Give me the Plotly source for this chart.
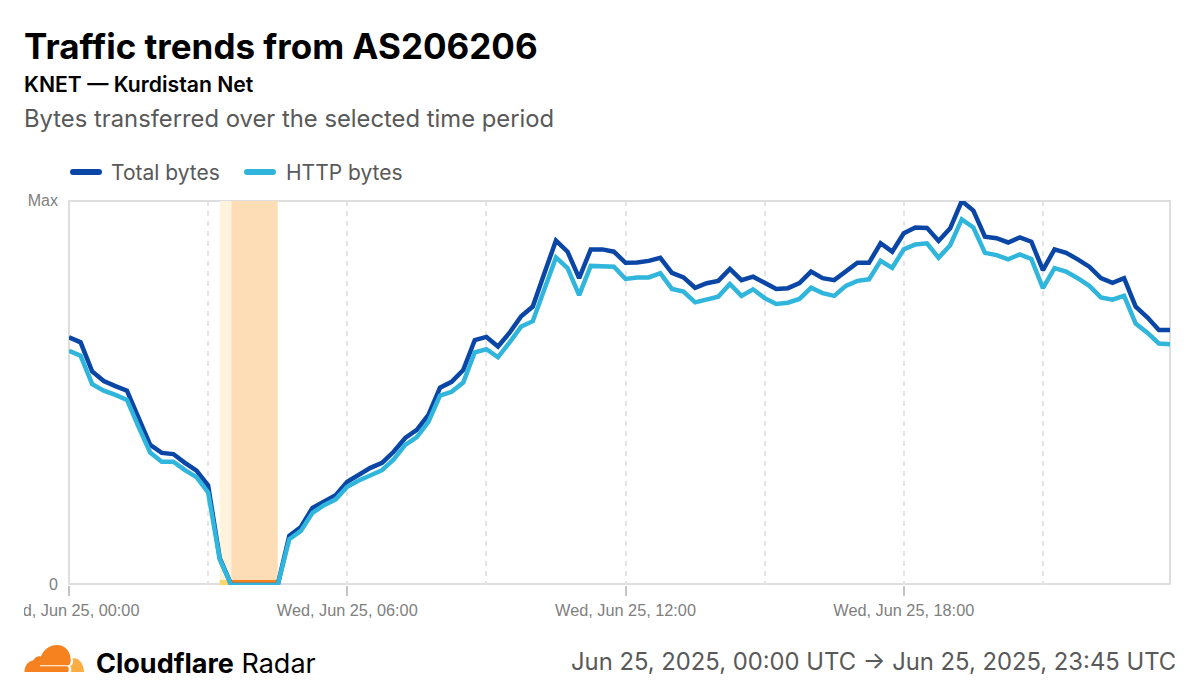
import pandas as pd
import plotly.graph_objects as go

# Traffic levels as a percentage of the day's maximum, one sample every 15 minutes.
total_bytes = [
    64.5, 63.2, 55.6, 53.1, 51.8, 50.6, 43.5, 36.5, 34.4, 34.1, 31.8, 29.8,
    25.9, 7.0, 0, 0, 0, 0, 0, 12.8, 15.1, 20.1, 21.9, 23.4,
    26.9, 28.6, 30.5, 31.8, 34.7, 38.3, 40.4, 44.3, 51.4, 52.9, 56.0, 63.8,
    64.6, 62.1, 65.7, 70.0, 72.5, 81.2, 89.7, 86.8, 79.9, 87.4, 87.4, 86.8,
    83.9, 84.0, 84.4, 85.2, 81.3, 80.1, 77.4, 78.6, 79.2, 82.3, 79.4, 80.3,
    78.6, 77.1, 77.3, 78.6, 81.6, 79.9, 79.4, 81.8, 83.9, 83.9, 89.0, 86.8,
    91.6, 93.1, 93.0, 89.6, 92.9, 100.0, 97.5, 90.7, 90.3, 89.2, 90.5, 89.4,
    82.0, 87.4, 86.5, 84.8, 82.9, 79.9, 78.7, 79.9, 72.5, 69.7, 66.4, 66.4,
]
http_bytes = [
    61.0, 59.7, 52.3, 50.6, 49.5, 48.2, 41.2, 34.5, 32.1, 32.1, 29.9, 28.1,
    24.1, 6.7, 0, 0, 0, 0, 0, 11.9, 14.1, 18.8, 20.8, 22.3,
    25.6, 27.2, 28.6, 29.9, 32.7, 36.5, 38.5, 42.5, 49.3, 50.3, 52.7, 60.6,
    61.4, 59.3, 63.2, 67.3, 68.7, 77.3, 85.3, 82.5, 75.5, 83.1, 83.1, 82.9,
    79.7, 80.1, 80.1, 81.2, 77.1, 76.4, 73.6, 74.4, 75.1, 78.4, 75.3, 77.0,
    74.7, 73.2, 73.5, 74.5, 77.4, 76.0, 75.3, 77.9, 79.2, 79.6, 84.4, 82.6,
    87.4, 88.7, 89.0, 85.2, 88.5, 95.2, 93.1, 86.5, 85.9, 84.8, 86.1, 84.9,
    77.3, 82.5, 81.6, 79.9, 77.9, 74.9, 74.3, 75.3, 68.1, 65.7, 62.9, 62.7,
]
timestamps = pd.date_range("2025-06-25 00:00", "2025-06-25 23:45", freq="15min")

y_tick_values = [0, 100]
y_tick_labels = ["0", "Max"]

# Outage windows: partial hour first, then the full outage.
partial_outage = ("2025-06-25 03:15", "2025-06-25 03:30")
full_outage = ("2025-06-25 03:30", "2025-06-25 04:30")

W, H = 1200, 699
GREY_TEXT = "#595959"
AXIS_TEXT = "#808080"
FRAME = "#dedede"
GRID = "#e4e4e4"
SANS = "Inter"


def px(x):
    return x / W


def py(y):
    return 1 - y / H


def label(text, x, y, size, color, weight=400, anchor="left", family=SANS):
    return dict(
        text=text, x=px(x), y=py(y), xref="paper", yref="paper",
        xanchor=anchor, yanchor="middle", showarrow=False,
        borderpad=0, borderwidth=0,
        font=dict(family=family, size=size, color=color, weight=weight),
    )


def pill(x0, x1, y, thick, color):
    # Rounded legend swatch, built from two half-circle curves.
    t, b, r = y - thick / 2, y + thick / 2, thick / 2
    path = (
        f"M {px(x0 + r)} {py(t)} L {px(x1 - r)} {py(t)} "
        f"Q {px(x1)} {py(t)} {px(x1)} {py(y)} Q {px(x1)} {py(b)} {px(x1 - r)} {py(b)} "
        f"L {px(x0 + r)} {py(b)} Q {px(x0)} {py(b)} {px(x0)} {py(y)} "
        f"Q {px(x0)} {py(t)} {px(x0 + r)} {py(t)} Z"
    )
    return dict(type="path", xref="paper", yref="paper", path=path,
                fillcolor=color, line_width=0, layer="above")


def outline(points, color):
    # Closed curve through logo outline points: ("M"/"L", x, y) or ("C", x1, y1, x2, y2, x, y).
    parts = []
    for p in points:
        coords = p[1:]
        pairs = " ".join(
            f"{px(coords[i])} {py(coords[i + 1])}" for i in range(0, len(coords), 2)
        )
        parts.append(f"{p[0]} {pairs}")
    return dict(type="path", xref="paper", yref="paper", path=" ".join(parts) + " Z",
                fillcolor=color, line_width=0, layer="above")


fig = go.Figure()
fig.add_trace(go.Scatter(
    x=timestamps, y=total_bytes, name="Total bytes", mode="lines",
    line=dict(color="#0A46A6", width=4.5), cliponaxis=False, showlegend=False,
))
fig.add_trace(go.Scatter(
    x=timestamps, y=http_bytes, name="HTTP bytes", mode="lines",
    line=dict(color="#30B5DC", width=4.5), cliponaxis=False, showlegend=False,
))

shapes = [
    dict(type="rect", xref="x", yref="y", x0=partial_outage[0], x1=partial_outage[1],
         y0=0, y1=100, fillcolor="#FFF3DC", line_width=0, layer="below"),
    dict(type="rect", xref="x", yref="y", x0=full_outage[0], x1=full_outage[1],
         y0=0, y1=100, fillcolor="#FDDDB5", line_width=0, layer="below"),
    # Plot frame
    dict(type="rect", xref="paper", yref="paper", x0=px(69), x1=px(1170), y0=py(584), y1=py(201),
         fillcolor="rgba(0,0,0,0)", line=dict(color=FRAME, width=2), layer="below"),
    dict(type="rect", xref="x", yref="y", x0=partial_outage[0], x1=partial_outage[1],
         y0=0, y1=1.3, fillcolor="#FBD66F", line_width=0, layer="below"),
    dict(type="rect", xref="x", yref="y", x0=full_outage[0], x1=full_outage[1],
         y0=0, y1=1.3, fillcolor="#F6821F", line_width=0, layer="below"),
    # The first tick label runs off the chart's left padding.
    dict(type="rect", xref="paper", yref="paper", x0=0, x1=px(24), y0=py(622), y1=py(598),
         fillcolor="#ffffff", line_width=0, layer="above"),
    pill(70, 102, 172, 6, "#0A46A6"),
    pill(244, 276, 172, 6, "#30B5DC"),
    # Cloudflare cloud mark
    outline([
        ("M", 24.5, 672), ("C", 24.5, 666, 28, 661, 33, 660.5),
        ("C", 35, 657, 38, 655.5, 41, 656.5), ("C", 44, 649, 50, 645, 57, 645),
        ("C", 65, 645, 70, 651, 70.5, 658), ("C", 71, 661, 70.5, 664, 69, 665.3),
        ("L", 40, 665.3), ("L", 40, 666.3), ("L", 67, 666.3),
        ("C", 69, 667, 69, 669, 68.3, 672),
    ], "#F6821F"),
    outline([
        ("M", 71, 672), ("C", 71.5, 669, 71.5, 667, 70, 666), ("L", 72, 665),
        ("C", 73.5, 663, 73.5, 660, 72.5, 658.3), ("C", 79, 657.5, 84, 664, 84, 672),
    ], "#FBAD41"),
]

annotations = [
    label("Traffic trends from AS206206", 24, 46, 35, "#000000", 700),
    label("KNET — Kurdistan Net", 24, 84, 21.2, "#000000", 600),
    label("Bytes transferred over the selected time period", 24, 119, 23.8, GREY_TEXT),
    label("Total bytes", 111, 172, 21, GREY_TEXT),
    label("HTTP bytes", 286, 172, 21, GREY_TEXT),
    label("<b>Cloudflare</b> Radar", 96, 663, 27, "#000000"),
    label("Jun 25, 2025, 00:00 UTC → Jun 25, 2025, 23:45 UTC", 1176, 661, 23.8,
          GREY_TEXT, anchor="right"),
]

fig.update_layout(
    width=W, height=H,
    margin=dict(l=0, r=0, t=0, b=0),
    paper_bgcolor="#ffffff", plot_bgcolor="rgba(0,0,0,0)",
    showlegend=False,
    shapes=shapes, annotations=annotations,
    xaxis=dict(
        automargin=False,
        domain=[px(69), px(1170)],
        type="date",
        range=["2025-06-25 00:00", "2025-06-25 23:44:24"],
        tick0="2025-06-25 00:00", dtick=6 * 3600 * 1000,
        tickformat="%a, %b %d, %H:%M",
        ticks="outside", ticklen=10, tickwidth=2, tickcolor="#c4c4c4",
        ticklabeloverflow="allow",
        tickfont=dict(family="Liberation Sans", size=16.3, color=AXIS_TEXT),
        showgrid=True, gridcolor=GRID, griddash="5px,5px", gridwidth=1.5,
        minor=dict(dtick=3 * 3600 * 1000, showgrid=True, gridcolor=GRID,
                   griddash="5px,5px", gridwidth=1.5, ticks=""),
        showline=False,
        zeroline=False,
    ),
    yaxis=dict(
        automargin=False,
        domain=[py(585), py(201)],
        range=[0, 100],
        tickvals=y_tick_values, ticktext=y_tick_labels,
        ticks="", ticklabelstandoff=10, ticklabelshift=-1,
        tickfont=dict(family="Liberation Sans", size=16, color=AXIS_TEXT),
        showgrid=False, zeroline=False,
        showline=False,
    ),
)

fig.write_html("out.html")
